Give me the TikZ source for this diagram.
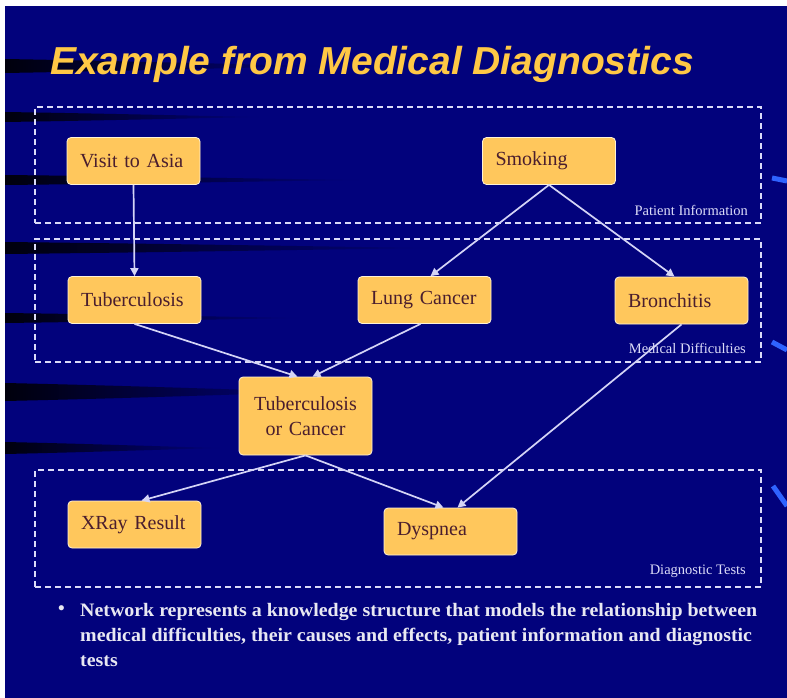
\documentclass[tikz,border=0pt]{standalone}
\usepackage{fontspec}
\usepackage{graphicx}
\setmainfont{Liberation Serif}
\newfontfamily\titlefont{Liberation Sans}
\usetikzlibrary{arrows.meta,calc}

\definecolor{slidebg}{HTML}{02027C}
\definecolor{boxfill}{HTML}{FFC75C}
\definecolor{boxedge}{HTML}{FFF2D6}
\definecolor{boxtext}{HTML}{4A1E2E}
\definecolor{linkcol}{HTML}{D4D4F6}
\definecolor{framecol}{HTML}{DCDCF8}
\definecolor{titlecol}{HTML}{FFC845}
\definecolor{bodytext}{HTML}{E8E8F2}
\definecolor{edgeblue}{HTML}{2F63FF}

\newcommand\bodyfont{\bfseries\fontsize{19}{25}\selectfont}
\newsavebox\firstline

\begin{document}
\sbox\firstline{\bodyfont Network represents a knowledge structure that models the relationship between}
\begin{tikzpicture}[x=1pt,y=-1pt,
  factor/.style={draw=boxedge, line width=0.8pt, fill=boxfill, rounded corners=4pt,
    minimum height=47pt, inner xsep=13pt, inner ysep=0pt, text width=107pt,
    align=left, text=boxtext, font=\fontsize{20}{25}\selectfont},
  link/.style={draw=linkcol, line width=1.7pt, -{Triangle[length=8pt,width=8pt]}},
  groupframe/.style={draw=framecol, line width=1.6pt, dash pattern=on 6pt off 4pt,
    inner sep=0pt},
  grouplabel/.style={text=framecol, font=\fontsize{14.5}{16}\selectfont, inner sep=0pt},
  bodyline/.style={text=bodytext, font=\bodyfont, inner sep=0pt, anchor=base west},
  streak/.style={left color=black!90!slidebg, right color=slidebg, shading angle=90},
  glint/.style={draw=edgeblue, line width=5pt}
]
\pgfmathsetmacro\squeeze{677/\wd\firstline*1pt}

% page and slide background
\useasboundingbox (0,0) rectangle (787,698);
\fill[white] (0,0) rectangle (787,698);
\fill[slidebg] (5,6) rectangle (787,698);

% dark horizontal swooshes on the left of the slide
\foreach \yc/\hw/\len in {66/7/320, 117/5/260, 180/5/360, 248/6/430, 318/5/300, 392/9/320, 448/6/220}{
  \shade[streak] (5,\yc-\hw) .. controls (\len*0.4,\yc-\hw*0.7) and (\len*0.7,\yc-\hw*0.3) .. (\len,\yc)
    .. controls (\len*0.7,\yc+\hw*0.3) and (\len*0.4,\yc+\hw*0.7) .. (5,\yc+\hw) -- cycle;
}

% blue glints at the right edge
\draw[glint] (772,178) -- (787,181);
\draw[glint] (772,342) -- (787,350);
\draw[glint] (773,486) -- (787,506);

% title
\node[anchor=base west, inner sep=0pt, text=titlecol,
  font=\titlefont\bfseries\itshape\fontsize{39}{44}\selectfont]
  (title) at (50,75) {Example from Medical Diagnostics};

% dashed group frames
\node[groupframe, minimum width=726pt, minimum height=116pt] (patient) at (398,165) {};
\node[groupframe, minimum width=726pt, minimum height=123pt] (medical) at (398,300.5) {};
\node[groupframe, minimum width=726pt, minimum height=117pt] (tests) at (398,528.5) {};
\node[grouplabel, anchor=base east] (patient-label) at (748,215) {Patient Information};
\node[grouplabel, anchor=base east] (medical-label) at (746,353) {Medical Difficulties};
\node[grouplabel, anchor=base east] (tests-label) at (746,574) {Diagnostic Tests};

% factors
\node[factor] (asia) at (133.5,161) {Visit to Asia};
\node[factor] (smoking) at (549,161) {Smoking};
\node[factor] (tub) at (134.5,300) {Tuberculosis};
\node[factor] (lung) at (424.5,300) {Lung Cancer};
\node[factor] (bron) at (681.5,300.5) {Bronchitis};
\node[factor, align=center, minimum height=78pt] (either) at (305.5,416)
  {Tuberculosis\\or Cancer};
\node[factor] (xray) at (134.5,524.5) {XRay Result};
\node[factor] (dysp) at (450.5,531.5) {Dyspnea};

% dependencies
\draw[link] (asia.south) -- (tub.north);
\draw[link] (smoking.south) -- ($(lung.north)+(6,0)$);
\draw[link] (smoking.south) -- ($(bron.north)+(-7,0)$);
\draw[link] (tub.south) -- ($(either.north)+(-8,0)$);
\draw[link] ($(lung.south)+(-4,0)$) -- ($(either.north)+(7,0)$);
\draw[link] (either.south) -- ($(xray.north)+(7,0)$);
\draw[link] (either.south) -- ($(dysp.north)+(-7,0)$);
\draw[link] (bron.south) -- ($(dysp.north)+(7,0)$);

% bullet text
\node[bodyline] (bullet) at (58,614) {•};
\node[bodyline] (line1) at (80,616)
  {\scalebox{\squeeze}[1]{Network represents a knowledge structure that models the relationship between}};
\node[bodyline] (line2) at (80,641)
  {\scalebox{\squeeze}[1]{medical difficulties, their causes and effects, patient information and diagnostic}};
\node[bodyline] (line3) at (80,666)
  {\scalebox{\squeeze}[1]{tests}};
\end{tikzpicture}
\end{document}
